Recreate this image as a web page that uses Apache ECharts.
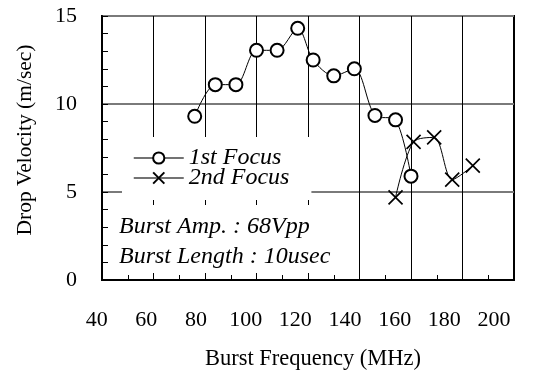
<!DOCTYPE html>
<html>
<head>
<meta charset="utf-8">
<script src="https://cdn.jsdelivr.net/npm/echarts@6/dist/echarts.min.js"></script>
<style>
html,body{margin:0;padding:0;background:#fff;}
#chart{width:540px;height:374px;}
</style>
</head>
<body>
<div id="chart"></div>
<script>
// ---- data ----
var firstFocusFreq = [76, 84, 92, 100, 108, 116, 122, 130, 138, 146, 154, 160];
var firstFocusVel  = [9.3, 11.1, 11.1, 13.05, 13.05, 14.3, 12.5, 11.6, 12.0, 9.35, 9.1, 5.9];
var secondFocusFreq = [154, 161, 169, 176, 184];
var secondFocusVel  = [4.7, 7.85, 8.1, 5.7, 6.5];
var xTickLabels = [40, 60, 80, 100, 120, 140, 160, 180, 200];
var yTickLabels = [0, 5, 10, 15];
var seriesNames = ['1st Focus', '2nd Focus'];
var annotationLines = ['Burst Amp. : 68Vpp', 'Burst Length : 10usec'];
var xTitle = 'Burst Frequency (MHz)';
var yTitle = 'Drop Velocity (m/sec)';

function pairs(xs, ys) { return xs.map(function (x, i) { return [x, ys[i]]; }); }

var FONT = 'Liberation Serif';
var chart = echarts.init(document.getElementById('chart'), null, {renderer: 'canvas'});
chart.setOption({
  animation: false,
  backgroundColor: '#fff',
  grid: [
    {left: 102, right: 26, top: 16, bottom: 94, show: true, borderColor: '#000', borderWidth: 2, backgroundColor: 'transparent', containLabel: false, outerBoundsMode: 'none'},
    {left: 96.7, right: 46, top: 16, bottom: 94, show: false, containLabel: false, outerBoundsMode: 'none'}
  ],
  title: {
    text: annotationLines.join('\n'),
    left: 108, top: 205,
    padding: [7, 10, 1, 11],
    backgroundColor: '#fff',
    z: 6,
    textStyle: {fontFamily: FONT, fontStyle: 'italic', fontWeight: 'normal', fontSize: 24, lineHeight: 30, color: '#000'}
  },
  legend: {
    orient: 'vertical',
    left: 122, top: 137,
    padding: [9, 22, 10, 11],
    itemGap: -4,
    itemWidth: 50, itemHeight: 14,
    backgroundColor: '#fff',
    data: seriesNames,
    textStyle: {fontFamily: FONT, fontStyle: 'italic', fontSize: 24, lineHeight: 21, color: '#000'},
    lineStyle: {color: '#444', width: 1.5}
  },
  xAxis: [{
    gridIndex: 0,
    type: 'value', min: 40, max: 200, interval: 20,
    name: xTitle, nameLocation: 'middle', nameGap: 68,
    nameTextStyle: {fontFamily: FONT, fontSize: 22.5, color: '#000', padding: [0, 0, 0, 10]},
    axisLine: {show: true, lineStyle: {color: '#000', width: 2}},
    axisTick: {show: true, inside: true, length: 8, lineStyle: {color: '#000', width: 1}},
    minorTick: {show: true, splitNumber: 2, length: 5, lineStyle: {color: '#000', width: 1}},
    splitLine: {show: true, lineStyle: {color: '#000', width: 1}},
    axisLabel: {show: false}
  }, {
    gridIndex: 1,
    type: 'value', min: 40, max: 200, interval: 20, position: 'bottom',
    axisLine: {show: false}, axisTick: {show: false}, splitLine: {show: false},
    axisLabel: {show: true, customValues: xTickLabels, margin: 29, fontFamily: FONT, fontSize: 22, color: '#000'}
  }],
  yAxis: [{
    gridIndex: 0,
    type: 'value', min: 0, max: 15, interval: 5,
    name: yTitle, nameLocation: 'middle', nameGap: 66,
    nameTextStyle: {fontFamily: FONT, fontSize: 21.5, color: '#000', padding: [0, 0, 0, 16]},
    axisLine: {show: true, lineStyle: {color: '#000', width: 2}},
    axisTick: {show: true, inside: true, length: 6, lineStyle: {color: '#000', width: 1}},
    minorTick: {show: true, splitNumber: 5, length: 6, lineStyle: {color: '#000', width: 1}},
    splitLine: {show: true, lineStyle: {color: '#7a7a7a', width: 2}},
    axisLabel: {show: true, customValues: yTickLabels, margin: 25, fontFamily: FONT, fontSize: 22, color: '#000'}
  }, {
    gridIndex: 1,
    type: 'value', min: 0, max: 15, show: false
  }],
  series: [{
    name: seriesNames[0], type: 'line', xAxisIndex: 0, yAxisIndex: 0,
    data: pairs(firstFocusFreq, firstFocusVel),
    smooth: 0.3,
    symbol: 'emptyCircle', symbolSize: 13,
    itemStyle: {color: '#000', borderColor: '#000', borderWidth: 1.6},
    lineStyle: {color: '#000', width: 1},
    z: 3
  }, {
    name: seriesNames[1], type: 'line', xAxisIndex: 0, yAxisIndex: 0,
    data: pairs(secondFocusFreq, secondFocusVel),
    smooth: 0.3,
    symbol: 'path://M0,0L10,10M10,0L0,10', symbolSize: 14,
    itemStyle: {color: '#000', borderColor: '#000', borderWidth: 1.7},
    lineStyle: {color: '#000', width: 1},
    z: 3
  }]
});
</script>
</body>
</html>
